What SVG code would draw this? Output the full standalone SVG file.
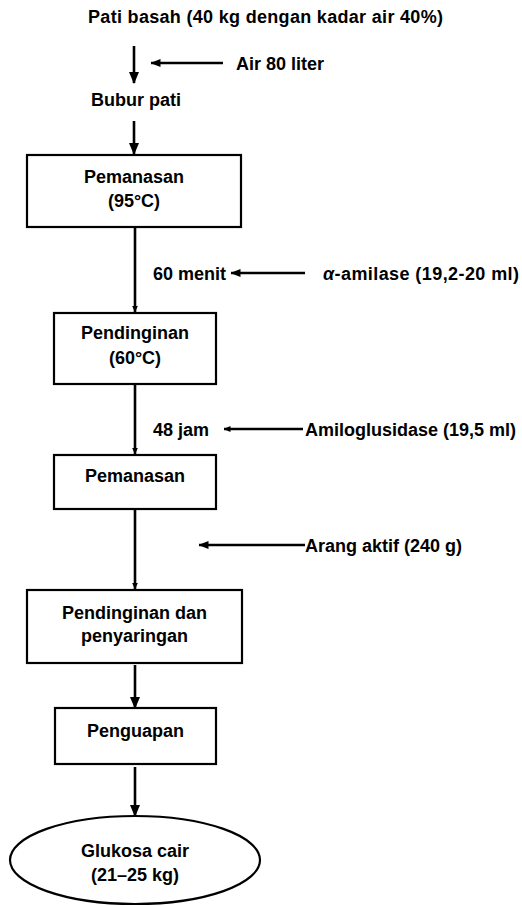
<svg xmlns="http://www.w3.org/2000/svg" width="522" height="906" viewBox="0 0 522 906">
<style>
  text { font-family: "Liberation Sans", Arial, Helvetica, sans-serif; font-weight: bold; font-size: 18px; fill: #000; }
  .c { text-anchor: middle; }
  .box { fill: #fff; stroke: #000; stroke-width: 2.2; }
  .ln { fill: none; stroke: #000; stroke-width: 2.6; }
  .big { marker-end: url(#ahBig); }
  .med { marker-end: url(#ahMed); }
  .sm { marker-end: url(#ahSm); }
</style>
<defs>
  <marker id="ahBig" markerUnits="userSpaceOnUse" markerWidth="12" markerHeight="12" viewBox="0 0 12 12" refX="11" refY="6" orient="auto">
    <path d="M0,1 L12,6 L0,11 z" fill="#000"/>
  </marker>
  <marker id="ahMed" markerUnits="userSpaceOnUse" markerWidth="10" markerHeight="10" viewBox="0 0 10 10" refX="9.5" refY="5" orient="auto">
    <path d="M0,1 L10,5 L0,9 z" fill="#000"/>
  </marker>
  <marker id="ahSm" markerUnits="userSpaceOnUse" markerWidth="7" markerHeight="7" viewBox="0 0 7 7" refX="6.5" refY="3.5" orient="auto">
    <path d="M0,0.5 L7,3.5 L0,6.5 z" fill="#000"/>
  </marker>
</defs>

<g id="connectors">
  <line class="ln big" x1="134" y1="46" x2="134" y2="83"/>
  <line class="ln med" x1="223" y1="63" x2="151" y2="63"/>
  <line class="ln big" x1="134" y1="121" x2="134" y2="154"/>
  <line class="ln sm" x1="135" y1="227" x2="135" y2="312"/>
  <line class="ln med" x1="305" y1="273" x2="231" y2="273"/>
  <line class="ln sm" x1="135" y1="384" x2="135" y2="454"/>
  <line class="ln sm" x1="303" y1="429" x2="224" y2="429"/>
  <line class="ln sm" x1="135" y1="509" x2="135" y2="589"/>
  <line class="ln med" x1="305" y1="545" x2="199" y2="545"/>
  <line class="ln big" x1="135" y1="665" x2="135" y2="708"/>
  <line class="ln big" x1="135" y1="767" x2="135" y2="816"/>
</g>

<g id="pati-basah">
  <text x="88" y="23" textLength="355">Pati basah (40 kg dengan kadar air 40%)</text>
</g>
<g id="air">
  <text x="236" y="70">Air 80 liter</text>
</g>
<g id="bubur-pati">
  <text x="91" y="106">Bubur pati</text>
</g>
<g id="pemanasan-1">
  <rect class="box" x="27" y="155" width="214" height="72"/>
  <text class="c" x="134" y="183">Pemanasan</text>
  <text class="c" x="134" y="207">(95°C)</text>
</g>
<g id="menit-60">
  <text x="153" y="280">60 menit</text>
</g>
<g id="alfa-amilase">
  <text x="323" y="280" textLength="196"><tspan font-style="italic">α</tspan>-amilase (19,2-20 ml)</text>
</g>
<g id="pendinginan">
  <rect class="box" x="54" y="313" width="162" height="71"/>
  <text class="c" x="135" y="339">Pendinginan</text>
  <text class="c" x="135" y="364">(60°C)</text>
</g>
<g id="jam-48">
  <text x="153" y="436">48 jam</text>
</g>
<g id="amiloglusidase">
  <text x="305" y="436">Amiloglusidase (19,5 ml)</text>
</g>
<g id="pemanasan-2">
  <rect class="box" x="54" y="455" width="162" height="54"/>
  <text class="c" x="135" y="482">Pemanasan</text>
</g>
<g id="arang-aktif">
  <text x="305" y="552">Arang aktif (240 g)</text>
</g>
<g id="pendinginan-penyaringan">
  <rect class="box" x="27" y="590" width="215" height="73"/>
  <text class="c" x="134.5" y="619">Pendinginan dan</text>
  <text class="c" x="134.5" y="642">penyaringan</text>
</g>
<g id="penguapan">
  <rect class="box" x="55" y="708" width="161" height="56"/>
  <text class="c" x="135.5" y="737">Penguapan</text>
</g>
<g id="glukosa-cair">
  <ellipse class="box" cx="135" cy="860" rx="125" ry="44"/>
  <text class="c" x="135" y="857">Glukosa cair</text>
  <text class="c" x="135" y="881">(21–25 kg)</text>
</g>
</svg>
